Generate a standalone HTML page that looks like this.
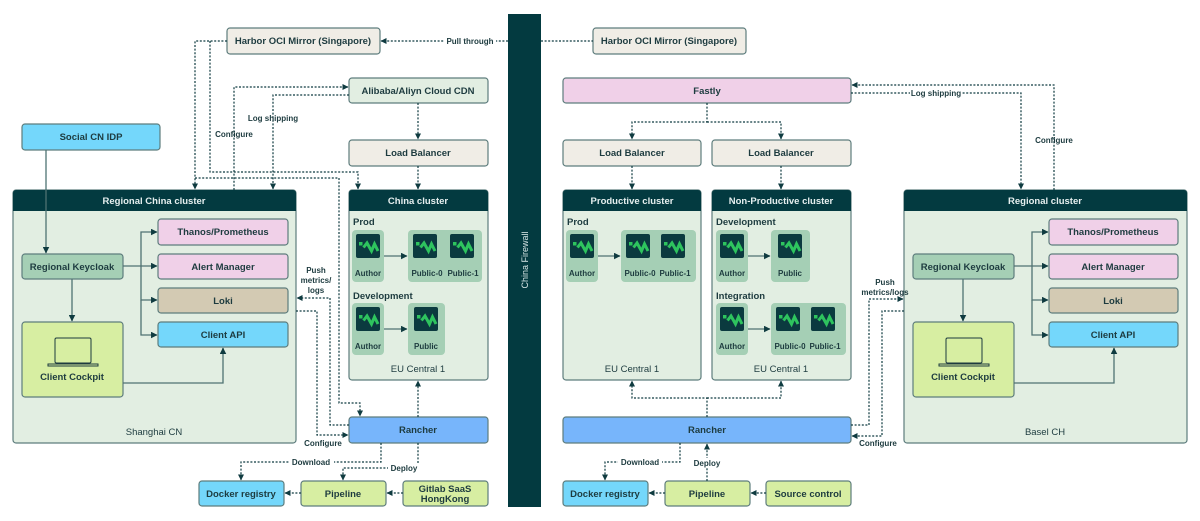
<!DOCTYPE html>
<html><head><meta charset="utf-8"><style>
html,body{margin:0;padding:0;background:#fff;width:1200px;height:521px;overflow:hidden}
svg text{font-family:"Liberation Sans",sans-serif;font-weight:bold;fill:#1d3b3f}
</style></head><body>
<svg width="1200" height="521" viewBox="0 0 1200 521" xmlns="http://www.w3.org/2000/svg">
<defs>
<marker id="a" viewBox="0 0 6 6" refX="5.5" refY="3" markerWidth="5" markerHeight="5" orient="auto"><path d="M0,0 L6,3 L0,6z" fill="#0f3b40"/></marker>
<g id="ic"><rect width="24" height="24" rx="2" fill="#0b3a3f"/><rect x="3" y="8" width="3.5" height="3.5" fill="#2ec45e"/><path d="M7.5 13.5 L11 9 L15.5 17 L18.5 10 L22 17" fill="none" stroke="#2ec45e" stroke-width="3"/></g>
</defs>
<style>
.b{stroke:#5e7d7d;stroke-width:1.2}
.d{fill:none;stroke:#0f3b40;stroke-width:1.2;stroke-dasharray:2 1.6}
.s{fill:none;stroke:#4f7272;stroke-width:1.3}
.t{font-size:9.5px}
.sm{font-size:8px}
</style>

<rect x="508" y="14" width="33" height="493" fill="#033a40"/>
<text transform="translate(528,260) rotate(-90)" text-anchor="middle" style="font-size:9px;fill:#d7e6e6;font-weight:normal">China Firewall</text>

<g class="b">
<rect x="13" y="190" width="283" height="253" rx="3" fill="#e2eee2"/>
<rect x="349" y="190" width="139" height="190" rx="3" fill="#e2eee2"/>
<rect x="563" y="190" width="138" height="190" rx="3" fill="#e2eee2"/>
<rect x="712" y="190" width="139" height="190" rx="3" fill="#e2eee2"/>
<rect x="904" y="190" width="283" height="253" rx="3" fill="#e2eee2"/>
</g>
<g fill="#033a40">
<path d="M13 211 V193 a3 3 0 0 1 3-3 H293 a3 3 0 0 1 3 3 V211z"/>
<path d="M349 211 V193 a3 3 0 0 1 3-3 H485 a3 3 0 0 1 3 3 V211z"/>
<path d="M563 211 V193 a3 3 0 0 1 3-3 H698 a3 3 0 0 1 3 3 V211z"/>
<path d="M712 211 V193 a3 3 0 0 1 3-3 H848 a3 3 0 0 1 3 3 V211z"/>
<path d="M904 211 V193 a3 3 0 0 1 3-3 H1184 a3 3 0 0 1 3 3 V211z"/>
</g>
<g class="t" text-anchor="middle">
<text x="154" y="204" style="fill:#e6efef">Regional China cluster</text>
<text x="418" y="204" style="fill:#e6efef">China cluster</text>
<text x="632" y="204" style="fill:#e6efef">Productive cluster</text>
<text x="781" y="204" style="fill:#e6efef">Non-Productive cluster</text>
<text x="1045" y="204" style="fill:#e6efef">Regional cluster</text>
</g>

<g class="b">
<rect x="227" y="28" width="153" height="26" rx="3" fill="#f0ede6"/>
<rect x="593" y="28" width="153" height="26" rx="3" fill="#f0ede6"/>
<rect x="349" y="78" width="139" height="25" rx="3" fill="#e2eee2"/>
<rect x="22" y="124" width="138" height="26" rx="3" fill="#74d7fb"/>
<rect x="349" y="140" width="139" height="26" rx="3" fill="#f0ede6"/>
<rect x="563" y="78" width="288" height="25" rx="3" fill="#f0d0e8"/>
<rect x="563" y="140" width="138" height="26" rx="3" fill="#f0ede6"/>
<rect x="712" y="140" width="139" height="26" rx="3" fill="#f0ede6"/>

<rect x="158" y="219" width="130" height="26" rx="3" fill="#f0d0e8"/>
<rect x="158" y="254" width="130" height="25" rx="3" fill="#f0d0e8"/>
<rect x="158" y="288" width="130" height="25" rx="3" fill="#d3cab3"/>
<rect x="158" y="322" width="130" height="25" rx="3" fill="#74d7fb"/>
<rect x="22" y="254" width="101" height="25" rx="3" fill="#a5cfb5"/>
<rect x="22" y="322" width="101" height="75" rx="3" fill="#d7eea2"/>

<rect x="1049" y="219" width="129" height="26" rx="3" fill="#f0d0e8"/>
<rect x="1049" y="254" width="129" height="25" rx="3" fill="#f0d0e8"/>
<rect x="1049" y="288" width="129" height="25" rx="3" fill="#d3cab3"/>
<rect x="1049" y="322" width="129" height="25" rx="3" fill="#74d7fb"/>
<rect x="913" y="254" width="101" height="25" rx="3" fill="#a5cfb5"/>
<rect x="913" y="322" width="101" height="75" rx="3" fill="#d7eea2"/>

<rect x="349" y="417" width="139" height="26" rx="3" fill="#77b5fb"/>
<rect x="199" y="481" width="85" height="25" rx="3" fill="#74d7fb"/>
<rect x="301" y="481" width="85" height="25" rx="3" fill="#d7eea2"/>
<rect x="403" y="481" width="85" height="25" rx="3" fill="#d7eea2"/>
<rect x="563" y="417" width="288" height="26" rx="3" fill="#77b5fb"/>
<rect x="563" y="481" width="85" height="25" rx="3" fill="#74d7fb"/>
<rect x="665" y="481" width="85" height="25" rx="3" fill="#d7eea2"/>
<rect x="766" y="481" width="85" height="25" rx="3" fill="#d7eea2"/>
</g>

<g fill="none" stroke="#1d3b3f" stroke-width="1">
<rect x="55" y="338" width="36" height="25" rx="1.5"/><path d="M48 364 H98 v2 H48z"/>
<rect x="946" y="338" width="36" height="25" rx="1.5"/><path d="M939 364 H989 v2 H939z"/>
</g>

<g class="t" text-anchor="middle">
<text x="303" y="44">Harbor OCI Mirror (Singapore)</text>
<text x="669" y="44">Harbor OCI Mirror (Singapore)</text>
<text x="418" y="94">Alibaba/Aliyn Cloud CDN</text>
<text x="91" y="140">Social CN IDP</text>
<text x="418" y="156">Load Balancer</text>
<text x="707" y="94">Fastly</text>
<text x="632" y="156">Load Balancer</text>
<text x="781" y="156">Load Balancer</text>
<text x="223" y="235">Thanos/Prometheus</text>
<text x="223" y="270">Alert Manager</text>
<text x="223" y="304">Loki</text>
<text x="223" y="338">Client API</text>
<text x="72" y="270">Regional Keycloak</text>
<text x="72" y="380">Client Cockpit</text>
<text x="154" y="435" style="font-weight:normal">Shanghai CN</text>
<text x="1113" y="235">Thanos/Prometheus</text>
<text x="1113" y="270">Alert Manager</text>
<text x="1113" y="304">Loki</text>
<text x="1113" y="338">Client API</text>
<text x="963" y="270">Regional Keycloak</text>
<text x="963" y="380">Client Cockpit</text>
<text x="1045" y="435" style="font-weight:normal">Basel CH</text>
<text x="418" y="433">Rancher</text>
<text x="707" y="433">Rancher</text>
<text x="241" y="497">Docker registry</text>
<text x="343" y="497">Pipeline</text>
<text x="445" y="492">Gitlab SaaS</text>
<text x="445" y="502">HongKong</text>
<text x="605" y="497">Docker registry</text>
<text x="707" y="497">Pipeline</text>
<text x="808" y="497">Source control</text>
<text x="418" y="372" style="font-weight:normal">EU Central 1</text>
<text x="632" y="372" style="font-weight:normal">EU Central 1</text>
<text x="781" y="372" style="font-weight:normal">EU Central 1</text>
</g>
<g class="t">
<text x="353" y="225">Prod</text><text x="353" y="299">Development</text>
<text x="567" y="225">Prod</text>
<text x="716" y="225">Development</text><text x="716" y="299">Integration</text>
</g>

<g fill="#a5cfb5">
<rect x="352" y="230" width="32" height="52" rx="4"/><rect x="408" y="230" width="74" height="52" rx="4"/>
<rect x="352" y="303" width="32" height="52" rx="4"/><rect x="408" y="303" width="37" height="52" rx="4"/>
<rect x="566" y="230" width="32" height="52" rx="4"/><rect x="621" y="230" width="75" height="52" rx="4"/>
<rect x="716" y="230" width="32" height="52" rx="4"/><rect x="771" y="230" width="39" height="52" rx="4"/>
<rect x="716" y="303" width="32" height="52" rx="4"/><rect x="771" y="303" width="75" height="52" rx="4"/>
</g>
<use href="#ic" x="356" y="234"/><use href="#ic" x="413" y="234"/><use href="#ic" x="450" y="234"/>
<use href="#ic" x="356" y="307"/><use href="#ic" x="414" y="307"/>
<use href="#ic" x="570" y="234"/><use href="#ic" x="626" y="234"/><use href="#ic" x="661" y="234"/>
<use href="#ic" x="720" y="234"/><use href="#ic" x="778" y="234"/>
<use href="#ic" x="720" y="307"/><use href="#ic" x="776" y="307"/><use href="#ic" x="811" y="307"/>
<g class="sm" text-anchor="middle">
<text x="368" y="276">Author</text><text x="427" y="276">Public-0</text><text x="463" y="276">Public-1</text>
<text x="368" y="349">Author</text><text x="426" y="349">Public</text>
<text x="582" y="276">Author</text><text x="640" y="276">Public-0</text><text x="675" y="276">Public-1</text>
<text x="732" y="276">Author</text><text x="790" y="276">Public</text>
<text x="732" y="349">Author</text><text x="790" y="349">Public-0</text><text x="825" y="349">Public-1</text>
</g>
<g class="s" marker-end="url(#a)">
<path d="M384 256 H407"/><path d="M384 329 H407"/><path d="M598 256 H620"/><path d="M748 256 H770"/><path d="M748 329 H770"/>
</g>

<g class="s" marker-end="url(#a)">
<path d="M46 150 V253"/>
<path d="M123 266 H157"/>
<path d="M141 266 V232 H157"/><path d="M141 266 V300 H157"/><path d="M141 300 V335 H157"/>
<path d="M72 279 V321"/>
<path d="M123 383 H223 V348"/>
<path d="M1014 266 H1048"/>
<path d="M1032 266 V232 H1048"/><path d="M1032 266 V300 H1048"/><path d="M1032 300 V335 H1048"/>
<path d="M963 279 V321"/>
<path d="M1014 383 H1114 V348"/>
</g>

<g class="d" marker-end="url(#a)">
<path d="M227 41 H195 V189"/>
<path d="M195 178 H339 V403 H360 V416"/>
<path d="M210 41 V172 H358 V189"/>
<path d="M234 190 V87 H348"/>
<path d="M349 95 H273 V189"/>
<path d="M418 103 V139"/><path d="M418 166 V189"/>
<path d="M349 425 H330 V298 H297"/>
<path d="M296 311 H317 V435 H348"/>
<path d="M418 417 V381"/>
<path d="M381 443 V462 H241 V480"/>
<path d="M418 443 V468 H343 V480"/>
<path d="M403 493 H387"/><path d="M301 493 H285"/>
<path d="M508 41 H381"/>
<path d="M707 103 V122 H632 V139"/><path d="M707 122 H781 V139"/>
<path d="M632 166 V189"/><path d="M781 166 V189"/>
<path d="M707 417 V398 H632 V381"/><path d="M707 398 H781 V381"/>
<path d="M851 93 H1021 V189"/>
<path d="M1054 190 V85 H852"/>
<path d="M851 425 H869 V299 H903"/>
<path d="M904 311 H882 V436 H852"/>
<path d="M680 443 V462 H605 V480"/>
<path d="M707 481 V444"/>
<path d="M766 493 H751"/><path d="M665 493 H649"/>
</g>
<path class="d" d="M541 41 H593"/>

<g class="sm" text-anchor="middle">
<rect x="444" y="35" width="52" height="11" fill="#fff"/><text x="470" y="44">Pull through</text>
<text x="234" y="137">Configure</text>
<text x="273" y="121">Log shipping</text>
<text x="316" y="273">Push</text><text x="316" y="283">metrics/</text><text x="316" y="293">logs</text>
<text x="323" y="446">Configure</text>
<rect x="290" y="457" width="44" height="10" fill="#fff"/><text x="311" y="465">Download</text>
<rect x="388" y="463" width="32" height="10" fill="#fff"/><text x="404" y="471">Deploy</text>
<rect x="910" y="88" width="52" height="10" fill="#fff"/><text x="936" y="96">Log shipping</text>
<text x="1054" y="143">Configure</text>
<text x="885" y="285">Push</text><text x="885" y="295">metrics/logs</text>
<text x="878" y="446">Configure</text>
<rect x="618" y="457" width="44" height="10" fill="#fff"/><text x="640" y="465">Download</text>
<rect x="692" y="458" width="30" height="10" fill="#fff"/><text x="707" y="466">Deploy</text>
</g>
</svg>
</body></html>
